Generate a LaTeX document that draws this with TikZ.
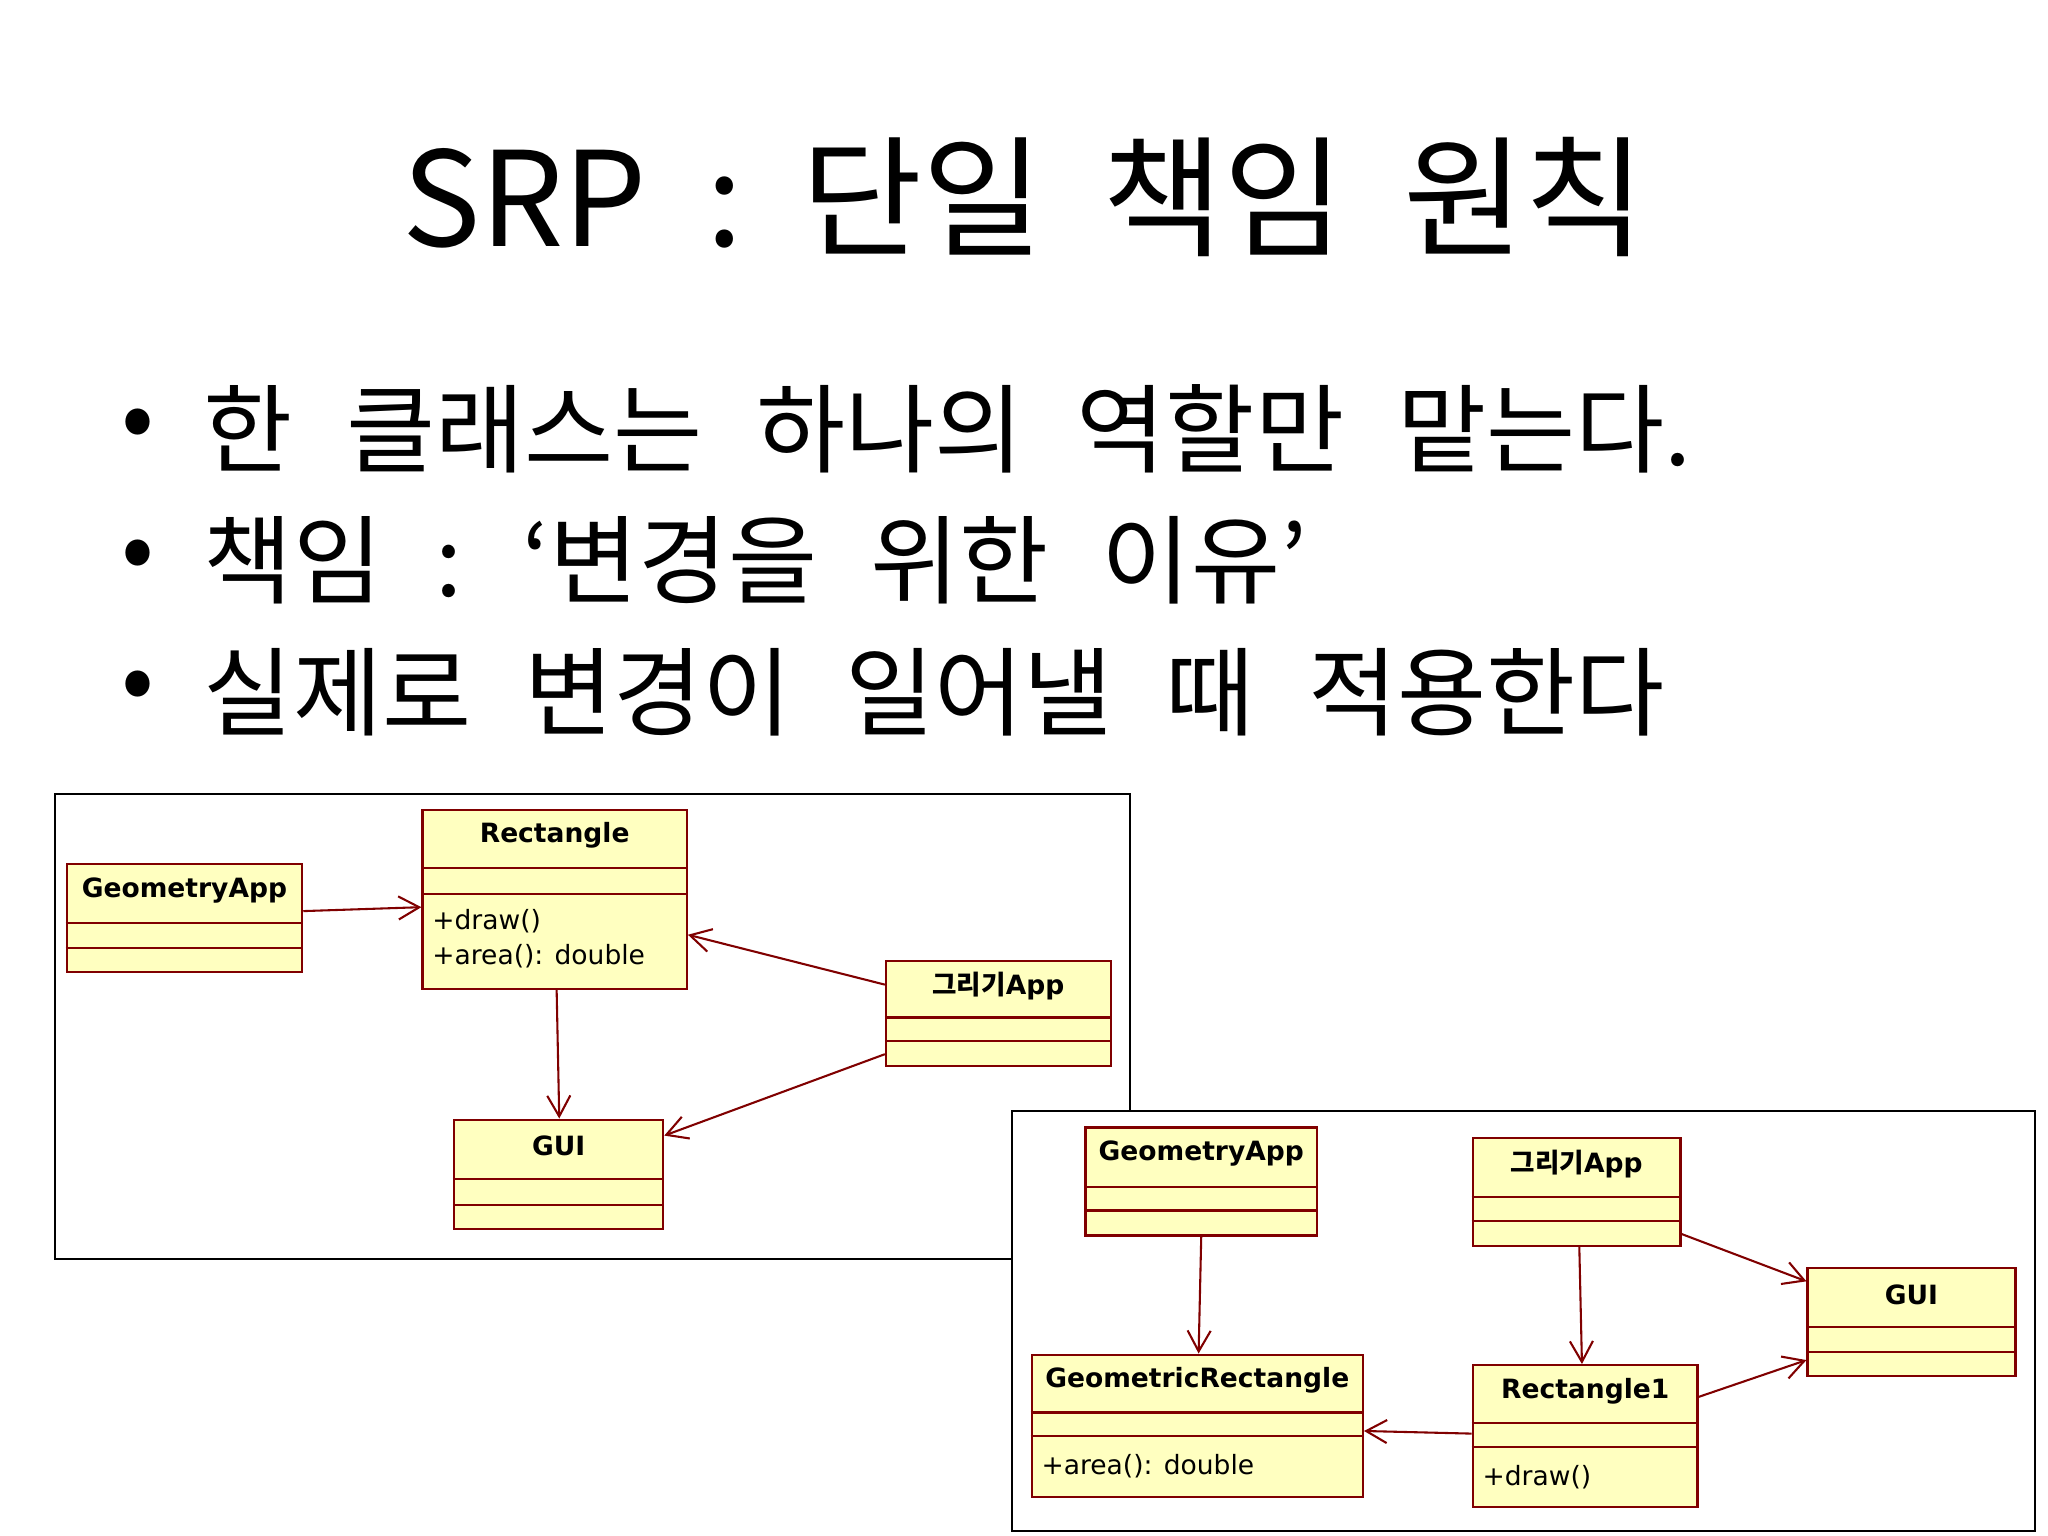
\documentclass[tikz,border=0pt]{standalone}
\usepackage{fontspec}
\setmainfont{Noto Sans CJK KR}
\newfontfamily\uml{DejaVu Sans}
\newfontfamily\umlkr{Noto Sans CJK KR}
\usetikzlibrary{arrows.meta,fit}
\definecolor{umlred}{RGB}{128,0,0}
\definecolor{umlfill}{RGB}{255,255,192}
\newcommand{\bulfont}{\fontsize{42}{48}\selectfont\spaceskip 0.55em\relax}
\newcommand{\titfont}{\fontsize{57}{64}\selectfont\spaceskip 0.45em\relax}
\tikzset{
 frame/.style={draw=black,fill=white,line width=0.8pt},
 cls/.style={draw=umlred,fill=umlfill,line width=1pt,inner sep=-0.5pt},
 cname/.style={font=\uml\bfseries\fontsize{11.5}{14}\selectfont},
 cop/.style={font=\uml\fontsize{11.5}{14}\selectfont,anchor=west,inner sep=0pt},
 dep/.style={draw=umlred,line width=0.9pt,-{Straight Barb[length=9pt,width=10pt]}},
 bul/.style={font=\bulfont,anchor=west,inner sep=0pt}
}
\newcommand{\umlbox}[8]{%
 \node[cls,fit={(#2,#3)(#4,#5)}] (#1) {};
 \draw[umlred,line width=1pt] (#2,#6) -- (#4,#6) (#2,#7) -- (#4,#7);
 \node[cname] (#1t) at ({(#2+#4)/2},{(#3+#6)/2-2}) {#8};
}
\begin{document}
\begin{tikzpicture}[x=0.02cm,y=-0.02cm]
\useasboundingbox (0,0) rectangle (1560,1170);
\fill[white] (0,0) rectangle (1560,1170);
\node[font=\titfont] (title) at (780,150) {SRP : 단일 책임 원칙};
\node[bul] (b1d) at (92,327) {•};
\node[bul] (b1) at (155,327) {한 클래스는 하나의 역할만 맡는다.};
\node[bul] (b2d) at (92,427) {•};
\node[bul] (b2) at (155,427) {책임 : ‘변경을 위한 이유’};
\node[bul] (b3d) at (92,527) {•};
\node[bul] (b3) at (155,527) {실제로 변경이 일어낼 때 적용한다};
% left panel
\draw[frame] (42,605) rectangle (861,959);
\umlbox{ga}{50}{657}{231}{741}{703}{722}{GeometryApp}
\umlbox{rect}{321}{616}{524}{754}{661}{681}{Rectangle}
\node[cop] (rop1) at (329,702) {+draw()};
\node[cop] (rop2) at (329,728) {+area(): double};
\umlbox{dr}{674}{731}{847}{813}{775}{793}{{\umlkr 그리기}App}
\umlbox{gui}{345}{852}{506}{937}{898}{918}{GUI}
\draw[dep] (ga.east |- 0,694) -- (rect.west |- 0,691);
\draw[dep] (rect.south -| 424,0) -- (gui.north -| 426,0);
\draw[dep] (dr.west |- 0,750) -- (rect.east |- 0,712);
\draw[dep] (dr.west |- 0,803) -- (gui.east |- 0,865);
% right panel
\draw[frame] (771,846) rectangle (1550,1166);
\umlbox{ga2}{826}{858}{1004}{942}{904}{922}{GeometryApp}
\umlbox{dr2}{1121}{866}{1281}{950}{912}{930}{{\umlkr 그리기}App}
\umlbox{gui2}{1376}{965}{1536}{1049}{1011}{1030}{GUI}
\umlbox{gr}{785}{1031}{1039}{1141}{1076}{1094}{GeometricRectangle}
\node[cop] (grop) at (793,1117) {+area(): double};
\umlbox{r1}{1121}{1039}{1294}{1149}{1084}{1102}{Rectangle1}
\node[cop] (r1op) at (1129,1125) {+draw()};
\draw[dep] (ga2.south -| 915,0) -- (gr.north -| 913,0);
\draw[dep] (dr2.south -| 1203,0) -- (r1.north -| 1205,0);
\draw[dep] (dr2.east |- 0,940) -- (gui2.west |- 0,976);
\draw[dep] (r1.west |- 0,1092) -- (gr.east |- 0,1090);
\draw[dep] (r1.east |- 0,1064) -- (gui2.west |- 0,1036);
\end{tikzpicture}
\end{document}
